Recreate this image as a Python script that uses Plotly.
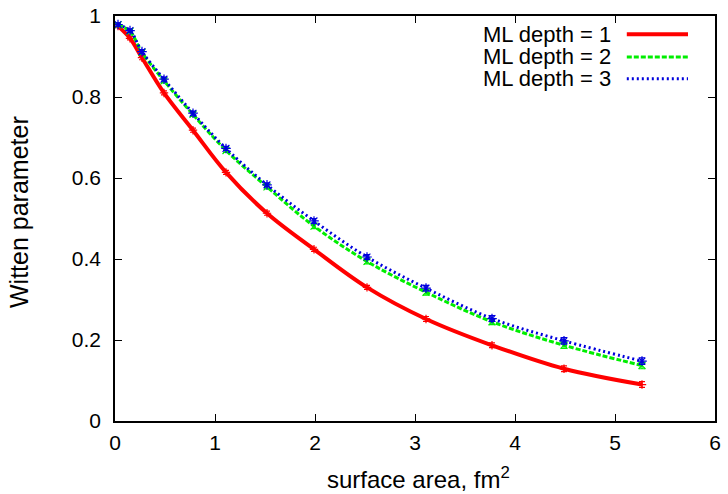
import plotly.graph_objects as go

# Data
area = [0.03, 0.15, 0.27, 0.49, 0.78, 1.11, 1.52, 1.99, 2.52, 3.11, 3.77, 4.49, 5.27]
depth1 = [0.975, 0.945, 0.897, 0.810, 0.718, 0.614, 0.513, 0.424, 0.330, 0.252, 0.187, 0.129, 0.090]
depth1_err = [0.004, 0.004, 0.005, 0.005, 0.005, 0.005, 0.005, 0.005, 0.005, 0.006, 0.006, 0.007, 0.007]
depth2 = [0.978, 0.962, 0.910, 0.840, 0.757, 0.668, 0.578, 0.481, 0.394, 0.318, 0.245, 0.187, 0.137]
depth2_err = [0.004, 0.004, 0.005, 0.005, 0.005, 0.005, 0.005, 0.006, 0.006, 0.007, 0.007, 0.008, 0.008]
depth3 = [0.979, 0.964, 0.912, 0.844, 0.760, 0.673, 0.583, 0.494, 0.405, 0.328, 0.253, 0.198, 0.148]
depth3_err = [0.004, 0.004, 0.005, 0.005, 0.005, 0.005, 0.005, 0.006, 0.006, 0.007, 0.007, 0.008, 0.008]
series_names = ["ML depth = 1", "ML depth = 2", "ML depth = 3"]
x_ticks = [0, 1, 2, 3, 4, 5, 6]
y_ticks = [0, 0.2, 0.4, 0.6, 0.8, 1]
y_ticktext = ["0", "0.2", "0.4", "0.6", "0.8", "1"]

FONT = "Liberation Sans, Arial, Helvetica, sans-serif"
colors = ["#ff0000", "#00ee00", "#0000dd"]
dashes = ["solid", "5px,2px", "2px,3px"]
widths = [4, 3, 3]
symbols = ["cross-thin-open", "x-thin-open", "asterisk-open"]
msizes = [6, 7, 8]

fig = go.Figure()
for name, ys, errs, c, d, w, s, ms in zip(series_names, [depth1, depth2, depth3],
                                          [depth1_err, depth2_err, depth3_err],
                                          colors, dashes, widths, symbols, msizes):
    fig.add_trace(go.Scatter(
        x=area, y=ys, mode="lines", name=name, showlegend=False,
        line=dict(color=c, width=w, dash=d, shape="spline", smoothing=1.0),
    ))
    fig.add_trace(go.Scatter(
        x=area, y=ys, mode="markers", showlegend=False,
        marker=dict(symbol=s, size=ms, color=c, line=dict(color=c, width=1.2)),
        error_y=dict(type="data", array=errs, visible=True, color=c, thickness=1.2, width=3),
    ))

# gnuplot-style legend: text right-aligned, line sample to the right
leg_y = [0.955, 0.899, 0.845]
for name, c, d, w, yy in zip(series_names, colors, dashes, widths, leg_y):
    fig.add_annotation(xref="paper", yref="paper", x=0.828, y=yy, text=name,
                       showarrow=False, xanchor="right", yanchor="middle", borderpad=0,
                       font=dict(family=FONT, size=22, color="black"))
    fig.add_shape(type="line", xref="paper", yref="paper", x0=0.853, x1=0.955,
                  y0=yy, y1=yy, line=dict(color=c, width=w, dash=d))

# axis titles
fig.add_annotation(xref="paper", yref="paper", x=0.505, y=-0.141, text="surface area, fm<sup>2</sup>",
                   showarrow=False, xanchor="center", yanchor="middle",
                   font=dict(family=FONT, size=24, color="black"))
fig.add_annotation(xref="paper", yref="paper", x=-0.16, y=0.516, text="Witten parameter",
                   showarrow=False, xanchor="center", yanchor="middle", textangle=-90,
                   font=dict(family=FONT, size=25, color="black"))

axis_common = dict(
    showgrid=False, zeroline=False, showline=True, linecolor="black", linewidth=1.5,
    mirror="ticks", ticks="inside", ticklen=7, tickwidth=1, tickcolor="black",
    tickfont=dict(family=FONT, size=21, color="black"), automargin=False,
    ticklabeloverflow="allow",
)
fig.update_xaxes(range=[0, 6], tickvals=x_ticks, ticktext=[str(t) for t in x_ticks],
                 ticklabelstandoff=2, **axis_common)
fig.update_yaxes(range=[0, 1], tickvals=y_ticks, ticktext=y_ticktext,
                 ticklabelstandoff=8, **axis_common)
fig.update_layout(
    width=728, height=494, margin=dict(l=115, r=13, t=16, b=73),
    paper_bgcolor="white", plot_bgcolor="white", showlegend=False,
    font=dict(family=FONT, color="black"),
)
# remove the default 8px page margin so the figure fills the window exactly
fig.write_html("out.html", config={"displayModeBar": False},
               post_script="document.body.style.margin='0';document.body.style.padding='0';")
